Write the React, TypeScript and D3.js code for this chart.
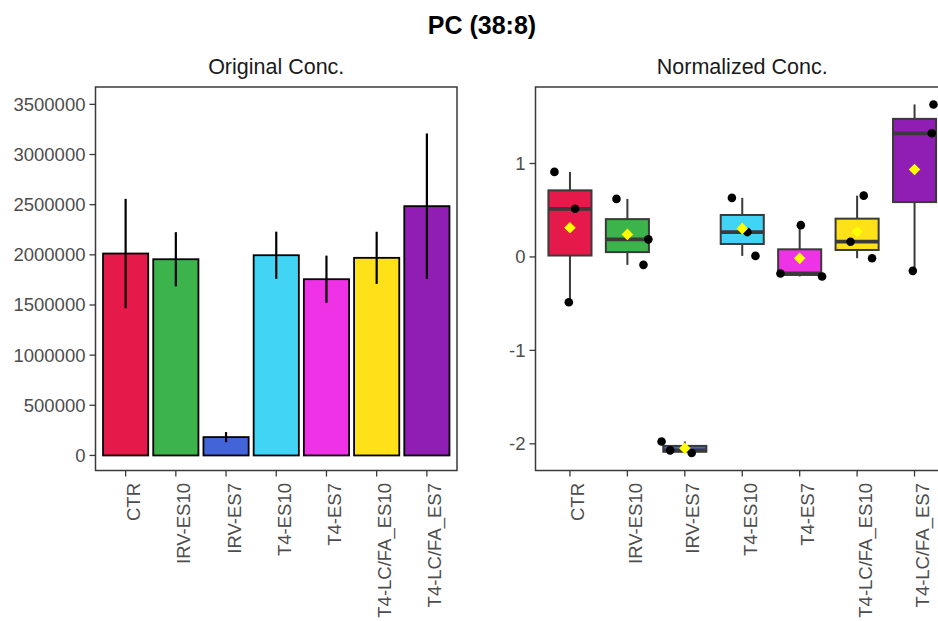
import React from "react";
import * as d3 from "d3";

// Groups and fill colours
const groups = ["CTR", "IRV-ES10", "IRV-ES7", "T4-ES10", "T4-ES7", "T4-LC/FA_ES10", "T4-LC/FA_ES7"];
const groupColors = ["#E6194B", "#3CB44B", "#4363D8", "#42D4F4", "#F032E6", "#FFE119", "#911EB4"];

// Original concentration: mean and error per group
const barMeans = [2013000, 1956000, 183000, 1996000, 1757000, 1970000, 2485000];
const barErrors = [545000, 270000, 50000, 235000, 235000, 260000, 725000];
const originalTicks = [0, 500000, 1000000, 1500000, 2000000, 2500000, 3000000, 3500000];
const originalDomain = [-150000, 3673000];

// Normalized concentration: replicate values and their horizontal jitter (fraction of step)
const normValues = [
  [0.91, 0.515, -0.485],
  [0.621, 0.188, -0.085],
  [-1.975, -2.07, -2.099],
  [0.632, 0.266, 0.011],
  [0.34, -0.177, -0.209],
  [0.656, 0.163, -0.014],
  [1.632, 1.323, -0.149],
];
const normJitter = [
  [-0.27, 0.09, -0.02],
  [-0.19, 0.365, 0.28],
  [-0.405, -0.255, 0.12],
  [-0.18, 0.09, 0.23],
  [0.02, -0.335, 0.39],
  [0.115, -0.115, 0.26],
  [0.33, 0.3, -0.03],
];
const normalizedTicks = [-2, -1, 0, 1];

const FONT = "'Liberation Sans', Arial, Helvetica, sans-serif";
const TICK_FONT = 18.5;
const TICK_COLOR = "#4D4D4D";
const BORDER = "#3A3A3A";

const top = 87;
const bottom = 470.5;
const leftPanel = { x0: 95.5, x1: 457 };
const rightPanel = { x0: 535.5, x1: 949 };

function XLabels({ x }: { x: d3.ScalePoint<string> }) {
  return (
    <g>
      {groups.map((g) => {
        const px = x(g)!;
        return (
          <g key={g}>
            <line x1={px} x2={px} y1={bottom} y2={bottom + 6} stroke={BORDER} strokeWidth={1.3} />
            <text
              transform={`translate(${px + 8},${bottom + 12.5}) rotate(-90)`}
              textAnchor="end"
              dy="0.35em"
              fontSize={TICK_FONT}
              fill={TICK_COLOR}
              fontFamily={FONT}
            >
              {g}
            </text>
          </g>
        );
      })}
    </g>
  );
}

function YAxis({ y, ticks, x0, fmt }: { y: d3.ScaleLinear<number, number>; ticks: number[]; x0: number; fmt: (v: number) => string }) {
  return (
    <g>
      {ticks.map((t) => (
        <g key={t}>
          <line x1={x0 - 6} x2={x0} y1={y(t)} y2={y(t)} stroke={BORDER} strokeWidth={1.3} />
          <text
            x={x0 - 10}
            y={y(t)}
            dy="0.35em"
            textAnchor="end"
            fontSize={TICK_FONT}
            fill={TICK_COLOR}
            fontFamily={FONT}
          >
            {fmt(t)}
          </text>
        </g>
      ))}
    </g>
  );
}

function OriginalPanel() {
  const x = d3.scalePoint<string>().domain(groups).range([leftPanel.x0, leftPanel.x1]).padding(0.6);
  const y = d3.scaleLinear().domain(originalDomain).range([bottom, top]);
  const bw = x.step() * 0.9;
  return (
    <g>
      {groups.map((g, i) => {
        const cx = x(g)!;
        return (
          <g key={g}>
            <rect
              x={cx - bw / 2}
              y={y(barMeans[i])}
              width={bw}
              height={y(0) - y(barMeans[i])}
              fill={groupColors[i]}
              stroke="#000"
              strokeWidth={1.8}
            />
            <line
              x1={cx}
              x2={cx}
              y1={y(barMeans[i] + barErrors[i])}
              y2={y(barMeans[i] - barErrors[i])}
              stroke="#000"
              strokeWidth={2.2}
            />
          </g>
        );
      })}
      <rect
        x={leftPanel.x0}
        y={top}
        width={leftPanel.x1 - leftPanel.x0}
        height={bottom - top}
        fill="none"
        stroke={BORDER}
        strokeWidth={1.5}
      />
      <YAxis y={y} ticks={originalTicks} x0={leftPanel.x0} fmt={(v) => String(v)} />
      <XLabels x={x} />
      <text
        x={(leftPanel.x0 + leftPanel.x1) / 2}
        y={74}
        textAnchor="middle"
        fontSize={21.5}
        fill="#1A1A1A"
        fontFamily={FONT}
      >
        Original Conc.
      </text>
    </g>
  );
}

function NormalizedPanel() {
  const x = d3.scalePoint<string>().domain(groups).range([rightPanel.x0, rightPanel.x1]).padding(0.6);
  const all = normValues.flat();
  const [lo, hi] = d3.extent(all) as [number, number];
  const pad = (hi - lo) * 0.05;
  const y = d3.scaleLinear().domain([lo - pad, hi + pad]).range([bottom, top]);
  const bw = x.step() * 0.75;
  const diamond = d3.symbol().type(d3.symbolDiamond2).size(85);
  return (
    <g>
      {groups.map((g, i) => {
        const cx = x(g)!;
        const vals = normValues[i].slice().sort(d3.ascending);
        const q1 = d3.quantile(vals, 0.25)!;
        const med = d3.quantile(vals, 0.5)!;
        const q3 = d3.quantile(vals, 0.75)!;
        const iqr = q3 - q1;
        const wLo = d3.min(vals.filter((v) => v >= q1 - 1.5 * iqr))!;
        const wHi = d3.max(vals.filter((v) => v <= q3 + 1.5 * iqr))!;
        const mean = d3.mean(vals)!;
        return (
          <g key={g}>
            <line x1={cx} x2={cx} y1={y(wHi)} y2={y(q3)} stroke={BORDER} strokeWidth={2} />
            <line x1={cx} x2={cx} y1={y(q1)} y2={y(wLo)} stroke={BORDER} strokeWidth={2} />
            <rect
              x={cx - bw / 2}
              y={y(q3)}
              width={bw}
              height={Math.max(y(q1) - y(q3), 0.5)}
              fill={groupColors[i]}
              stroke={BORDER}
              strokeWidth={2}
            />
            <line x1={cx - bw / 2} x2={cx + bw / 2} y1={y(med)} y2={y(med)} stroke={BORDER} strokeWidth={3.8} />
            {normValues[i].map((v, j) => (
              <circle key={j} cx={cx + normJitter[i][j] * x.step()} cy={y(v)} r={4.3} fill="#000" />
            ))}
            <path d={diamond()!} transform={`translate(${cx},${y(mean)})`} fill="#FFFF00" />
          </g>
        );
      })}
      <rect
        x={rightPanel.x0}
        y={top}
        width={rightPanel.x1 - rightPanel.x0}
        height={bottom - top}
        fill="none"
        stroke={BORDER}
        strokeWidth={1.5}
      />
      <YAxis y={y} ticks={normalizedTicks} x0={rightPanel.x0} fmt={(v) => String(v)} />
      <XLabels x={x} />
      <text
        x={(rightPanel.x0 + rightPanel.x1) / 2}
        y={74}
        textAnchor="middle"
        fontSize={21.5}
        fill="#1A1A1A"
        fontFamily={FONT}
      >
        Normalized Conc.
      </text>
    </g>
  );
}

export default function App() {
  return (
    <svg
      width={938}
      height={621}
      style={{ position: "absolute", left: 0, top: 0, background: "#fff" }}
      fontFamily={FONT}
    >
      <rect width={938} height={621} fill="#fff" />
      <text x={482} y={34} textAnchor="middle" fontSize={25} fontWeight="bold" fill="#000" fontFamily={FONT}>
        PC (38:8)
      </text>
      <OriginalPanel />
      <NormalizedPanel />
    </svg>
  );
}
